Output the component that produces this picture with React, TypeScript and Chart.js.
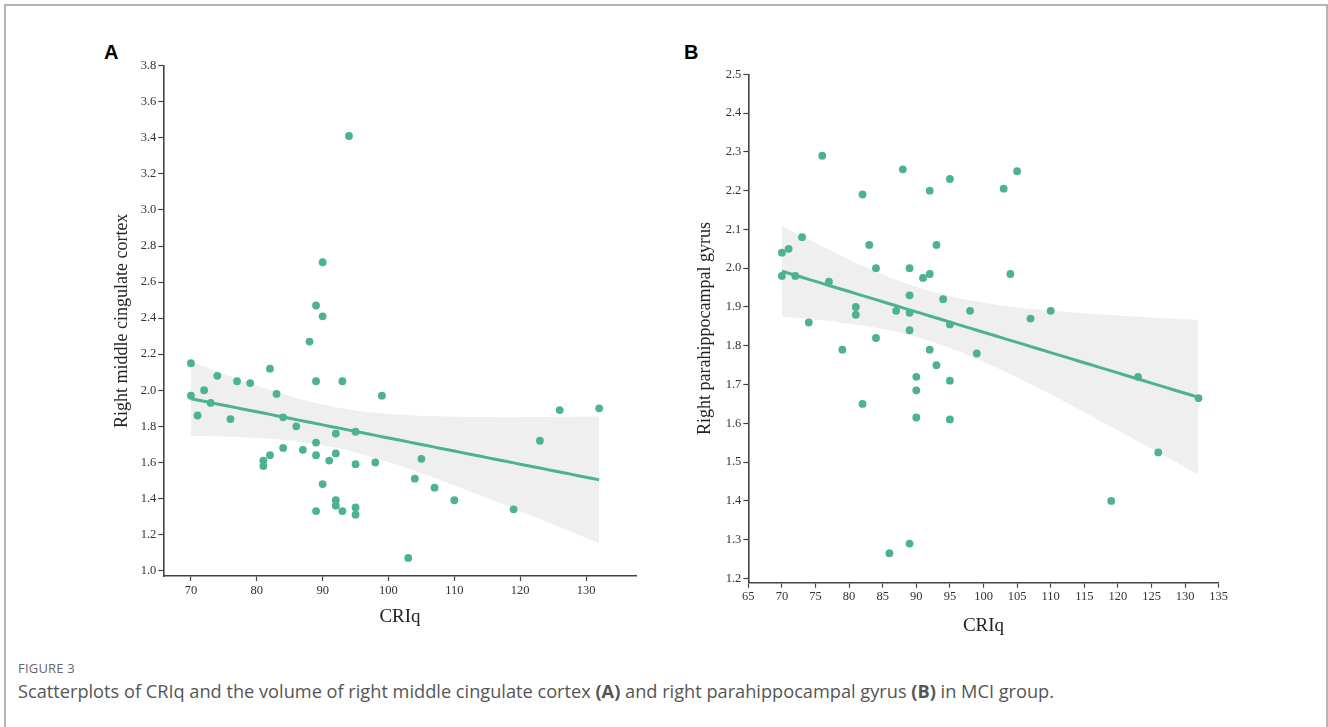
import React, { useEffect, useRef } from "react";
import { Chart, registerables } from "chart.js";

Chart.register(...registerables);

// ---- Panel A: CRIq vs right middle cingulate cortex ----
const crIqA = [70, 70, 71, 72, 73, 74, 76, 77, 79, 81, 81, 82, 82, 83, 84, 84, 86, 87, 88, 89, 89, 89, 89, 89, 90, 90, 90, 91, 92, 92, 92, 92, 93, 93, 94, 95, 95, 95, 95, 98, 99, 103, 104, 105, 107, 110, 119, 123, 126, 132];
const volA = [2.15, 1.97, 1.86, 2.0, 1.93, 2.08, 1.84, 2.05, 2.04, 1.61, 1.58, 2.12, 1.64, 1.98, 1.85, 1.68, 1.8, 1.67, 2.27, 2.47, 2.05, 1.71, 1.64, 1.33, 2.71, 2.41, 1.48, 1.61, 1.76, 1.65, 1.39, 1.36, 2.05, 1.33, 3.41, 1.77, 1.59, 1.35, 1.31, 1.6, 1.97, 1.07, 1.51, 1.62, 1.46, 1.39, 1.34, 1.72, 1.89, 1.9];
const xTicksA = [70, 80, 90, 100, 110, 120, 130];
const yTicksA = [1.0, 1.2, 1.4, 1.6, 1.8, 2.0, 2.2, 2.4, 2.6, 2.8, 3.0, 3.2, 3.4, 3.6, 3.8];

// ---- Panel B: CRIq vs right parahippocampal gyrus ----
const crIqB = [70, 70, 71, 72, 73, 74, 76, 77, 79, 81, 81, 82, 82, 83, 84, 84, 86, 87, 88, 89, 89, 89, 89, 89, 90, 90, 90, 91, 92, 92, 92, 93, 93, 94, 95, 95, 95, 95, 98, 99, 103, 104, 105, 107, 110, 119, 123, 126, 132];
const volB = [2.04, 1.98, 2.05, 1.98, 2.08, 1.86, 2.29, 1.965, 1.79, 1.9, 1.88, 2.19, 1.65, 2.06, 2.0, 1.82, 1.265, 1.89, 2.255, 2.0, 1.93, 1.885, 1.84, 1.29, 1.72, 1.685, 1.615, 1.975, 2.2, 1.985, 1.79, 2.06, 1.75, 1.92, 2.23, 1.855, 1.71, 1.61, 1.89, 1.78, 2.205, 1.985, 2.25, 1.87, 1.89, 1.4, 1.72, 1.525, 1.665];
const xTicksB = [65, 70, 75, 80, 85, 90, 95, 100, 105, 110, 115, 120, 125, 130, 135];
const yTicksB = [1.2, 1.3, 1.4, 1.5, 1.6, 1.7, 1.8, 1.9, 2.0, 2.1, 2.2, 2.3, 2.4, 2.5];

const T_CRIT = 2.01; // 95% two-sided, ~47 df

const GREEN = "#4cb38d";
const BAND = "#efefef";
const AXIS = "#444444";
const SERIF = "'Liberation Serif', 'Times New Roman', serif";

function regression(xs: number[], ys: number[]) {
  const n = xs.length;
  const mx = xs.reduce((a, b) => a + b, 0) / n;
  const my = ys.reduce((a, b) => a + b, 0) / n;
  let sxx = 0, sxy = 0;
  for (let i = 0; i < n; i++) {
    sxx += (xs[i] - mx) ** 2;
    sxy += (xs[i] - mx) * (ys[i] - my);
  }
  const b = sxy / sxx;
  const a = my - b * mx;
  let sse = 0;
  for (let i = 0; i < n; i++) sse += (ys[i] - (a + b * xs[i])) ** 2;
  const s = Math.sqrt(sse / (n - 2));
  const xmin = Math.min(...xs), xmax = Math.max(...xs);
  const line: { x: number; y: number }[] = [];
  const upper: { x: number; y: number }[] = [];
  const lower: { x: number; y: number }[] = [];
  for (let x = xmin; x <= xmax; x += 1) {
    const yh = a + b * x;
    const se = s * Math.sqrt(1 / n + (x - mx) ** 2 / sxx);
    line.push({ x, y: yh });
    upper.push({ x, y: yh + T_CRIT * se });
    lower.push({ x, y: yh - T_CRIT * se });
  }
  return { line, upper, lower };
}

type PanelCfg = {
  xs: number[];
  ys: number[];
  xTicks: number[];
  yTicks: number[];
  xMin: number;
  xMax: number;
  yMin: number;
  yMax: number;
  yTitle: string;
  yAxisWidth: number;
  xAxisHeight: number;
  pad: { top: number; right: number; bottom: number; left: number };
  yTitlePad: number;
  xTitlePad: number;
};

function Panel({ cfg, style }: { cfg: PanelCfg; style: React.CSSProperties }) {
  const ref = useRef<HTMLCanvasElement | null>(null);
  useEffect(() => {
    if (!ref.current) return;
    const reg = regression(cfg.xs, cfg.ys);
    const pts = cfg.xs.map((x, i) => ({ x, y: cfg.ys[i] }));
    const chart = new Chart(ref.current, {
      type: "scatter",
      data: {
        datasets: [
          {
            data: pts,
            backgroundColor: GREEN,
            borderWidth: 0,
            pointRadius: 3.9,
            order: 0,
          } as any,
          {
            type: "line",
            data: reg.line,
            borderColor: GREEN,
            borderWidth: 3,
            pointRadius: 0,
            fill: false,
            order: 1,
          } as any,
          {
            type: "line",
            data: reg.upper,
            borderWidth: 0,
            borderColor: "rgba(0,0,0,0)",
            backgroundColor: BAND,
            pointRadius: 0,
            fill: "+1",
            tension: 0.3,
            order: 2,
          } as any,
          {
            type: "line",
            data: reg.lower,
            borderWidth: 0,
            borderColor: "rgba(0,0,0,0)",
            pointRadius: 0,
            fill: false,
            tension: 0.3,
            order: 3,
          } as any,
        ],
      },
      options: {
        animation: false,
        responsive: false,
        maintainAspectRatio: false,
        layout: { padding: cfg.pad },
        plugins: { legend: { display: false }, tooltip: { enabled: false } },
        scales: {
          x: {
            type: "linear",
            min: cfg.xMin,
            max: cfg.xMax,
            afterBuildTicks: (s: any) => {
              s.ticks = cfg.xTicks.map((v) => ({ value: v }));
            },
            afterFit: (s: any) => {
              s.height = cfg.xAxisHeight;
            },
            grid: {
              display: true,
              drawOnChartArea: false,
              drawTicks: true,
              tickLength: 5,
              tickColor: AXIS,
              tickWidth: 1.2,
            },
            border: { display: true, color: AXIS, width: 1.6 },
            ticks: {
              color: "#333",
              padding: 2,
              maxRotation: 0,
              autoSkip: false,
              font: { family: SERIF, size: 12.5 },
              callback: (v: any) => String(v),
            },
            title: {
              display: true,
              text: "CRIq",
              color: "#222",
              font: { family: SERIF, size: 19 },
              padding: { top: 0, bottom: cfg.xTitlePad },
            },
          },
          y: {
            type: "linear",
            min: cfg.yMin,
            max: cfg.yMax,
            afterBuildTicks: (s: any) => {
              s.ticks = cfg.yTicks.map((v) => ({ value: v }));
            },
            afterFit: (s: any) => {
              s.width = cfg.yAxisWidth;
            },
            grid: {
              display: true,
              drawOnChartArea: false,
              drawTicks: true,
              tickLength: 5,
              tickColor: AXIS,
              tickWidth: 1.2,
            },
            border: { display: true, color: AXIS, width: 1.6 },
            ticks: {
              color: "#333",
              padding: 2,
              autoSkip: false,
              font: { family: SERIF, size: 12.5 },
              callback: (v: any) => Number(v).toFixed(1),
            },
            title: {
              display: true,
              text: cfg.yTitle,
              color: "#222",
              font: { family: SERIF, size: 18 },
              padding: { top: cfg.yTitlePad, bottom: 0 },
            },
          },
        },
      },
    });
    return () => chart.destroy();
  }, [cfg]);
  return <canvas ref={ref} width={style.width as number} height={style.height as number} style={style} />;
}

const cfgA: PanelCfg = {
  xs: crIqA,
  ys: volA,
  xTicks: xTicksA,
  yTicks: yTicksA,
  xMin: 65.8,
  xMax: 137.7,
  yMin: 0.97,
  yMax: 3.8,
  yTitle: "Right middle cingulate cortex",
  yAxisWidth: 63.3,
  xAxisHeight: 60,
  pad: { top: 10.7, right: 23.3, bottom: 9, left: 0 },
  yTitlePad: 11.2,
  xTitlePad: 7.2,
};

const cfgB: PanelCfg = {
  xs: crIqB,
  ys: volB,
  xTicks: xTicksB,
  yTicks: yTicksB,
  xMin: 65,
  xMax: 135,
  yMin: 1.189,
  yMax: 2.5,
  yTitle: "Right parahippocampal gyrus",
  yAxisWidth: 68.3,
  xAxisHeight: 60,
  pad: { top: 14.3, right: 21.3, bottom: 7.3, left: 0 },
  yTitlePad: 14.2,
  xTitlePad: 4.9,
};

export default function App() {
  return (
    <div
      style={{
        position: "fixed",
        left: 0,
        top: 0,
        width: 1328,
        height: 727,
        overflow: "hidden",
        background: "#fff",
      }}
    >
      <div
        style={{
          position: "absolute",
          left: 4,
          top: 4,
          width: 1324,
          height: 800,
          boxSizing: "border-box",
          border: "2px solid #b4b4b4",
          borderBottom: "none",
        }}
      />
      <div
        style={{
          position: "absolute",
          left: 104,
          top: 41,
          fontFamily: "'Liberation Sans', Arial, sans-serif",
          fontWeight: 700,
          fontSize: 20,
          color: "#000",
        }}
      >
        A
      </div>
      <div
        style={{
          position: "absolute",
          left: 684,
          top: 41,
          fontFamily: "'Liberation Sans', Arial, sans-serif",
          fontWeight: 700,
          fontSize: 20,
          color: "#000",
        }}
      >
        B
      </div>
      <Panel cfg={cfgA} style={{ position: "absolute", left: 100, top: 55, width: 560, height: 590 }} />
      <Panel cfg={cfgB} style={{ position: "absolute", left: 680, top: 60, width: 560, height: 590 }} />
      <div
        style={{
          position: "absolute",
          left: 18,
          top: 659,
          fontFamily: "'Open Sans', sans-serif",
          fontSize: 13,
          color: "#666",
          letterSpacing: 0.2,
        }}
      >
        FIGURE 3
      </div>
      <div
        style={{
          position: "absolute",
          left: 18,
          top: 679,
          fontFamily: "'Open Sans', sans-serif",
          fontSize: 18.2,
          color: "#555",
          whiteSpace: "nowrap",
        }}
      >
        Scatterplots of CRIq and the volume of right middle cingulate cortex <b>(A)</b> and right parahippocampal gyrus{" "}
        <b>(B)</b> in MCI group.
      </div>
    </div>
  );
}
